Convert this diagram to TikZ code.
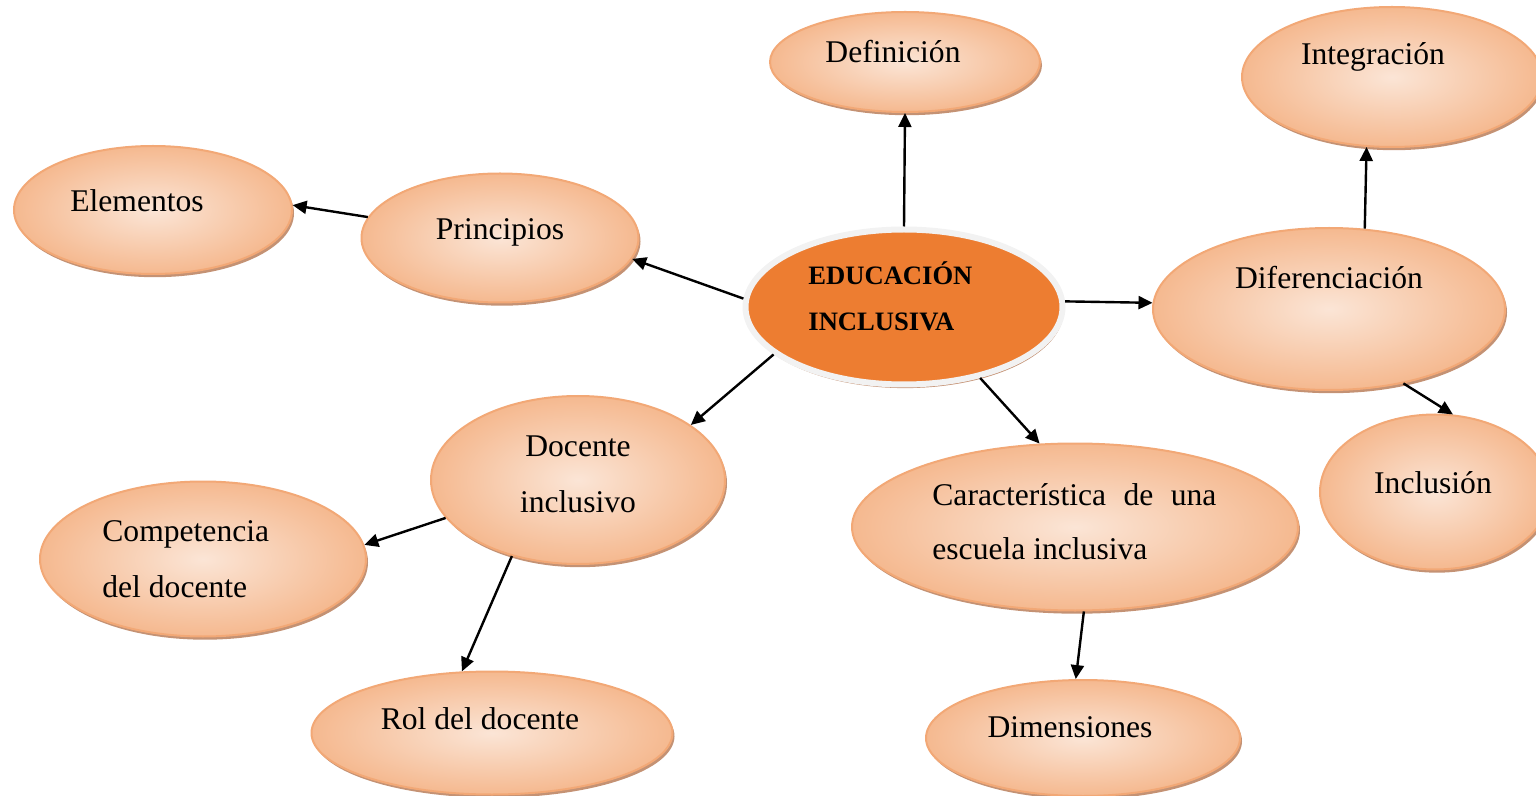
\documentclass[tikz,border=0pt]{standalone}
\usepackage{fontspec}
\setmainfont{Liberation Serif}
\usetikzlibrary{shapes.geometric, arrows.meta, shadows}

\definecolor{bubdark}{RGB}{244, 177, 131}
\definecolor{bublight}{RGB}{251, 229, 214}
\definecolor{bubedge}{RGB}{242, 168, 118}
\definecolor{hubfill}{RGB}{237, 125, 49}
\definecolor{hubring}{RGB}{242, 242, 242}
\definecolor{shadowc}{RGB}{196, 146, 116}

\begin{document}
\begin{tikzpicture}[
  x=0.5pt, y=-0.5pt,
  bub/.style={ellipse, draw=bubedge, line width=1pt, inner color=bublight, outer color=bubdark!85!bublight, drop shadow={shadow xshift=1pt, shadow yshift=-1.6pt, fill=shadowc, opacity=1}},
  hub/.style={ellipse, fill=hubfill, draw=hubring, line width=3pt, drop shadow={shadow xshift=0.6pt, shadow yshift=-1.8pt, fill=shadowc, opacity=1}},
  txt/.style={anchor=base, inner sep=0pt, font=\fontsize{15.8}{19}\selectfont},
  arr/.style={-{Triangle[length=7pt, width=6.5pt]}, line width=1.2pt},
]
  \clip (0, 0) rectangle (1536, 796);
  % bubbles
  \node[bub, minimum width=135pt, minimum height=50pt] (def) at (905, 62) {};
  \node[bub, minimum width=150pt, minimum height=70pt] (intg) at (1392, 77) {};
  \node[bub, minimum width=139pt, minimum height=64pt] (elem) at (153, 210) {};
  \node[bub, minimum width=138.5pt, minimum height=64.5pt] (prin) at (500, 238) {};
  \node[bub, minimum width=176pt, minimum height=81pt] (dif) at (1329, 309) {};
  \node[bub, minimum width=147pt, minimum height=84pt] (doc) at (578, 480) {};
  \node[bub, minimum width=163pt, minimum height=77.5pt] (comp) at (203, 559) {};
  \node[bub, minimum width=223pt, minimum height=83.5pt] (car) at (1075, 527) {};
  \node[bub, minimum width=115pt, minimum height=77.5pt] (incl) at (1435, 492) {};
  \node[bub, minimum width=180.5pt, minimum height=61.5pt] (rol) at (492, 733) {};
  \node[bub, minimum width=157pt, minimum height=58pt] (dim) at (1083, 738) {};
  \node[hub, minimum width=158.5pt, minimum height=77.5pt] (cen) at (904, 307) {};

  % labels
  \node[txt] (def-t) at (893, 63) {Definición};
  \node[txt] (intg-t) at (1373, 65) {Integración};
  \node[txt] (elem-t) at (137, 212) {Elementos};
  \node[txt] (prin-t) at (500, 240) {Principios};
  \node[txt] (dif-t) at (1329, 289) {Diferenciación};
  \node[txt] (doc-t1) at (578, 457) {Docente};
  \node[txt] (doc-t2) at (578, 512) {inclusivo};
  \node[txt, anchor=base west] (comp-t1) at (102, 541) {Competencia};
  \node[txt, anchor=base west] (comp-t2) at (102, 597) {del docente};
  \node[txt, anchor=base west] (car-t1) at (932, 505) {\hbox to 142pt{Característica\hfill de\hfill una}};
  \node[txt, anchor=base west] (car-t2) at (932, 559) {escuela inclusiva};
  \node[txt] (incl-t) at (1433, 493) {Inclusión};
  \node[txt] (rol-t) at (480, 729) {Rol del docente};
  \node[txt] (dim-t) at (1070, 737) {Dimensiones};
  \node[txt, anchor=base west, font=\fontsize{13.3}{16}\selectfont\bfseries] (cen-t1) at (808, 285) {EDUCACIÓN};
  \node[txt, anchor=base west, font=\fontsize{13.3}{16}\selectfont\bfseries] (cen-t2) at (808, 331) {INCLUSIVA};

  % connectors
  \draw[arr] (cen.north) -- (def.south);
  \draw[arr] (cen.177) -- (prin.-9);
  \draw[arr] (prin.171) -- (elem.2);
  \draw[arr] (cen.2) -- (dif.178);
  \draw[arr] (dif.66) -- (intg.250);
  \draw[arr] (dif.-45) -- (incl.77);
  \draw[arr] (cen.200) -- (doc.26);
  \draw[arr] (cen.-43) -- (car.113);
  \draw[arr] (car.-84) -- (dim.97);
  \draw[arr] (doc.196) -- (comp.5);
  \draw[arr] (doc.229) -- (rol.116);
\end{tikzpicture}
\end{document}
